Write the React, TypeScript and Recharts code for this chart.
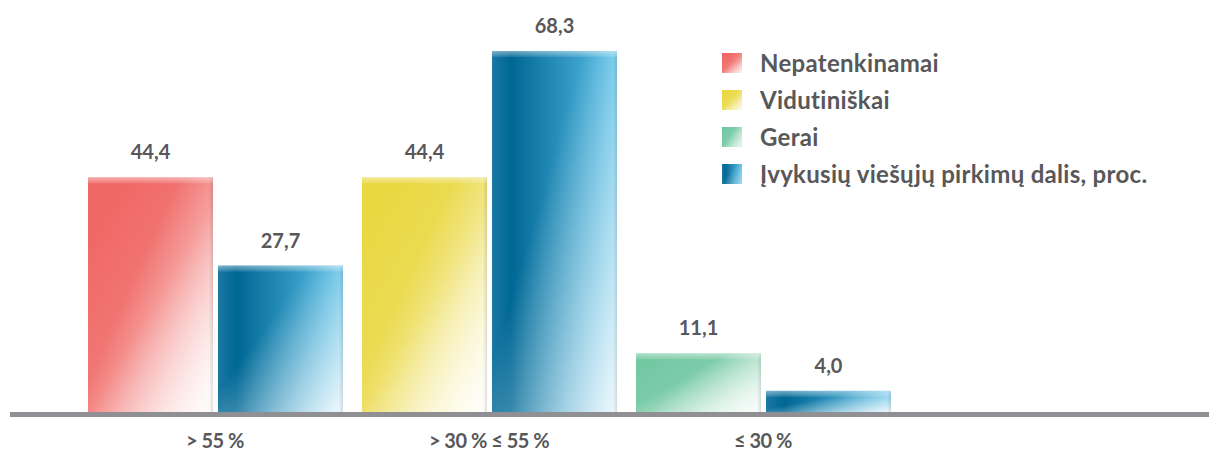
import React from "react"
import { BarChart, Bar, XAxis, YAxis, Cell, LabelList } from "recharts"

// categories and values
const categories = ["> 55 %", "> 30 % ≤ 55 %", "≤ 30 %"]
const vertinimas = [44.4, 44.4, 11.1]
const dalis = [27.7, 68.3, 4.0]
const vertinimasColors = ["gRed", "gYellow", "gGreen"]

const legendLabels = ["Nepatenkinamai", "Vidutiniškai", "Gerai", "Įvykusių viešųjų pirkimų dalis, proc."]
const legendColors = ["gRed", "gYellow", "gGreen", "gBlue"]

const data = categories.map((c, i) => ({ name: c, vertinimas: vertinimas[i], dalis: dalis[i] }))

const fmt = (v: any) => Number(v).toFixed(1).replace(".", ",")

// bar with gradient body, light top edge and soft right shadow
const GlossBar = (props: any) => {
  const { x, y, width, height, fill } = props
  if (!height || height <= 0) return null
  return (
    <g>
      <rect x={x} y={y} width={width} height={height} fill={fill} />
      <rect x={x} y={y} width={width} height={height} fill="url(#fadeWhite)" />
      <rect x={x + width - 4} y={y} width={4} height={height} fill="url(#edgeShade)" />
      <rect x={x} y={y} width={width} height={Math.min(6, height)} fill="url(#topGloss)" />
    </g>
  )
}

const LegendBox = () => (
  <div style={{ position: "absolute", left: 722, top: 44, fontFamily: "Lato, sans-serif" }}>
    {legendLabels.map((l, i) => (
      <div key={l} style={{ display: "flex", alignItems: "center", height: 37 }}>
        <svg width={20} height={20} style={{ marginRight: 18 }}>
          <rect width={20} height={20} fill={`url(#${legendColors[i]})`} />
          <rect width={20} height={20} fill="url(#fadeWhite)" opacity={0.5} />
        </svg>
        <span style={{ fontSize: 24, fontWeight: 700, color: "#58585a", whiteSpace: "nowrap", letterSpacing: 0.3 }}>{l}</span>
      </div>
    ))}
  </div>
)

const labelStyle = { fill: "#58585a", fontSize: 20, fontWeight: 700, fontFamily: "Lato, sans-serif" }

export default function App() {
  return (
    <div style={{ position: "absolute", left: 0, top: 0, width: 1209, height: 452, background: "#fff", fontFamily: "Lato, sans-serif" }}>
      <BarChart
        width={1209}
        height={452}
        data={data}
        margin={{ top: 42, right: 0, bottom: 0, left: 10 }}
        barSize={125}
        barGap={5}
      >
        <defs>
          <linearGradient id="gRed" x1="0.2" y1="0.1" x2="1" y2="1">
            <stop offset="0" stopColor="#f06866" />
            <stop offset="0.45" stopColor="#f17a77" />
            <stop offset="1" stopColor="#fde9e9" />
          </linearGradient>
          <linearGradient id="gYellow" x1="0.2" y1="0.1" x2="1" y2="1">
            <stop offset="0" stopColor="#ead843" />
            <stop offset="0.45" stopColor="#ecdc58" />
            <stop offset="1" stopColor="#fdf9e0" />
          </linearGradient>
          <linearGradient id="gGreen" x1="0" y1="0" x2="1" y2="0.6">
            <stop offset="0" stopColor="#6fc7a0" />
            <stop offset="0.5" stopColor="#7dcca9" />
            <stop offset="1" stopColor="#c5e9d8" />
          </linearGradient>
          <linearGradient id="gBlue" x1="0" y1="0" x2="1" y2="0">
            <stop offset="0" stopColor="#1a78a3" />
            <stop offset="0.15" stopColor="#006794" />
            <stop offset="1" stopColor="#5cc1e9" />
          </linearGradient>
          <linearGradient id="fadeWhite" x1="0.35" y1="0.45" x2="1" y2="1">
            <stop offset="0" stopColor="#ffffff" stopOpacity={0} />
            <stop offset="1" stopColor="#ffffff" stopOpacity={0.9} />
          </linearGradient>
          <linearGradient id="edgeShade" x1="0" y1="0" x2="1" y2="0">
            <stop offset="0" stopColor="#000000" stopOpacity={0} />
            <stop offset="1" stopColor="#000000" stopOpacity={0.12} />
          </linearGradient>
          <linearGradient id="topGloss" x1="0" y1="0" x2="0" y2="1">
            <stop offset="0" stopColor="#ffffff" stopOpacity={0.45} />
            <stop offset="1" stopColor="#ffffff" stopOpacity={0.1} />
          </linearGradient>
        </defs>
        <XAxis
          dataKey="name"
          height={40}
          padding={{ left: 68, right: 309 }}
          tickLine={false}
          tickSize={0}
          tickMargin={22}
          axisLine={{ stroke: "#8f8f94", strokeWidth: 5, transform: "translate(0,2.5)" }}
          tick={{ fill: "#58585a", fontSize: 20, fontWeight: 700, fontFamily: "Lato, sans-serif", letterSpacing: -0.5 }}
          interval={0}
        />
        <YAxis hide domain={[0, 70]} />
        <Bar dataKey="vertinimas" shape={GlossBar} isAnimationActive={false}>
          {data.map((d, i) => (
            <Cell key={d.name} fill={`url(#${vertinimasColors[i]})`} />
          ))}
          <LabelList dataKey="vertinimas" position="top" offset={18} formatter={fmt} style={labelStyle} />
        </Bar>
        <Bar dataKey="dalis" shape={GlossBar} fill="url(#gBlue)" isAnimationActive={false}>
          <LabelList dataKey="dalis" position="top" offset={18} formatter={fmt} style={labelStyle} />
        </Bar>
      </BarChart>
      <LegendBox />
    </div>
  )
}
